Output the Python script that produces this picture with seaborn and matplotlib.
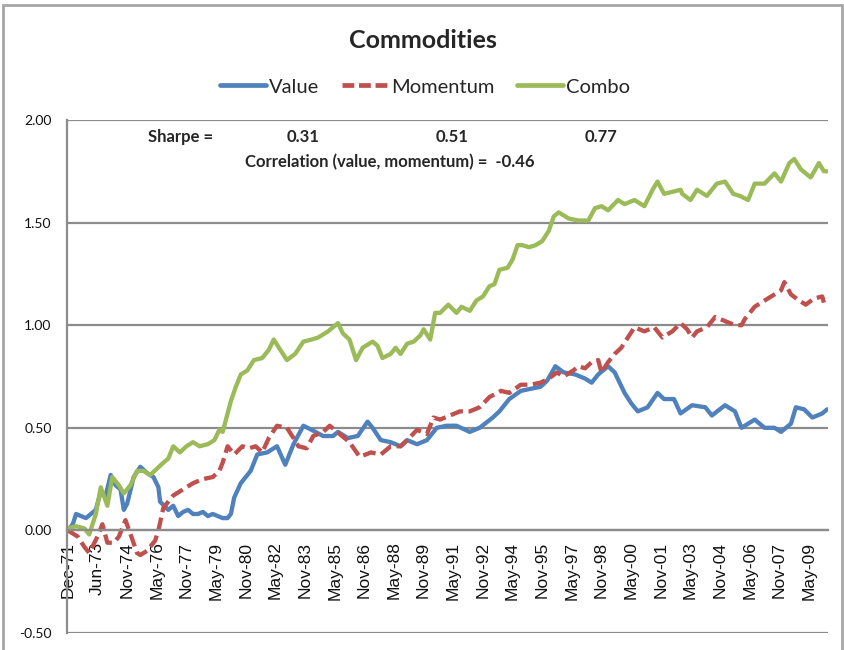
import numpy as np
import pandas as pd
import matplotlib
matplotlib.use("Agg")
import matplotlib.pyplot as plt
import seaborn as sns
from matplotlib.lines import Line2D
from matplotlib.patches import Rectangle

# ==========================================
#   DATA (cumulative returns; month 0 = Dec-71)
# ==========================================
value_months = [0, 3, 5, 8, 11, 17, 20, 23, 26, 29, 32, 34, 36, 40, 44, 48, 52, 55, 56, 61,
                64, 67, 70, 73, 76, 79, 82, 85, 88, 91, 94, 97, 99, 101, 105, 111, 115, 121, 127, 132,
                137, 143, 148, 155, 161, 164, 170, 176, 182, 185, 190, 196, 202, 206, 212, 218, 224, 230, 236, 244,
                250, 258, 262, 268, 275, 281, 287, 291, 296, 301, 308, 314, 318, 322, 328, 332, 338, 342, 346, 352,
                358, 362, 368, 372, 379, 387, 391, 399, 405, 409, 417, 423, 429, 433, 439, 442, 447, 452, 458, 461]
value_vals = [0.00, 0.03, 0.08, 0.07, 0.06, 0.10, 0.19, 0.17, 0.27, 0.22, 0.20, 0.10, 0.13, 0.26, 0.31, 0.28, 0.26, 0.21, 0.14, 0.10,
              0.12, 0.07, 0.09, 0.10, 0.08, 0.08, 0.09, 0.07, 0.08, 0.07, 0.06, 0.06, 0.08, 0.16, 0.23, 0.29, 0.37, 0.38, 0.41, 0.32,
              0.42, 0.51, 0.49, 0.46, 0.46, 0.48, 0.45, 0.46, 0.53, 0.50, 0.44, 0.43, 0.41, 0.44, 0.42, 0.44, 0.50, 0.51, 0.51, 0.48,
              0.50, 0.55, 0.58, 0.64, 0.68, 0.69, 0.70, 0.73, 0.80, 0.77, 0.76, 0.74, 0.72, 0.76, 0.80, 0.77, 0.67, 0.62, 0.58, 0.60,
              0.67, 0.64, 0.64, 0.57, 0.61, 0.60, 0.56, 0.61, 0.58, 0.50, 0.54, 0.50, 0.50, 0.48, 0.52, 0.60, 0.59, 0.55, 0.57, 0.59]

momentum_months = [0, 6, 10, 13, 18, 21, 24, 28, 31, 35, 39, 42, 44, 48, 53, 55, 58, 64, 70, 76,
                   82, 88, 92, 94, 97, 101, 106, 110, 114, 118, 122, 127, 133, 137, 140, 145, 149, 155, 159, 165,
                   171, 177, 181, 184, 190, 196, 202, 206, 212, 218, 222, 226, 232, 238, 244, 250, 256, 263, 268, 275,
                   281, 287, 292, 297, 301, 307, 310, 314, 318, 322, 324, 328, 332, 336, 340, 344, 350, 356, 361, 367,
                   372, 376, 379, 382, 388, 393, 399, 405, 409, 411, 417, 423, 429, 433, 435, 439, 444, 448, 453, 458, 459]
momentum_vals = [0.00, -0.03, -0.08, -0.11, -0.03, 0.03, -0.06, -0.06, -0.03, 0.05, -0.04, -0.11, -0.12, -0.10, -0.05, 0.00, 0.11, 0.17, 0.20, 0.23,
                 0.25, 0.26, 0.29, 0.33, 0.41, 0.37, 0.41, 0.40, 0.41, 0.38, 0.45, 0.51, 0.50, 0.45, 0.41, 0.40, 0.46, 0.48, 0.51, 0.47,
                 0.43, 0.36, 0.37, 0.38, 0.37, 0.41, 0.41, 0.44, 0.49, 0.47, 0.55, 0.54, 0.56, 0.58, 0.58, 0.60, 0.65, 0.68, 0.67, 0.71,
                 0.71, 0.72, 0.74, 0.77, 0.75, 0.78, 0.80, 0.79, 0.82, 0.83, 0.77, 0.82, 0.86, 0.89, 0.94, 0.99, 0.97, 0.99, 0.94, 0.97,
                 1.01, 0.98, 0.94, 0.97, 0.99, 1.04, 1.02, 1.00, 1.00, 1.03, 1.09, 1.12, 1.15, 1.17, 1.21, 1.15, 1.12, 1.10, 1.13, 1.14, 1.11]

combo_months = [0, 5, 10, 13, 17, 20, 24, 27, 31, 34, 38, 42, 46, 50, 54, 58, 61, 64, 68, 72,
                76, 80, 85, 89, 92, 94, 97, 99, 102, 105, 109, 113, 118, 122, 125, 129, 133, 138, 143, 148,
                152, 158, 164, 167, 171, 175, 179, 185, 188, 191, 196, 199, 202, 206, 210, 214, 216, 220, 223, 226,
                231, 236, 239, 244, 248, 252, 256, 259, 262, 267, 270, 273, 276, 280, 284, 288, 292, 295, 298, 304,
                310, 316, 320, 324, 328, 334, 338, 344, 350, 355, 358, 362, 367, 372, 373, 378, 382, 388, 394, 399,
                404, 408, 413, 417, 423, 429, 433, 438, 441, 445, 451, 456, 459, 461]
combo_vals = [0.01, 0.02, 0.01, -0.02, 0.08, 0.21, 0.12, 0.26, 0.22, 0.18, 0.22, 0.29, 0.29, 0.27, 0.30, 0.33, 0.35, 0.41, 0.38, 0.41,
              0.43, 0.41, 0.42, 0.44, 0.49, 0.48, 0.57, 0.63, 0.70, 0.76, 0.78, 0.83, 0.84, 0.88, 0.93, 0.88, 0.83, 0.86, 0.92, 0.93,
              0.94, 0.97, 1.01, 0.96, 0.93, 0.83, 0.89, 0.92, 0.90, 0.84, 0.86, 0.89, 0.86, 0.91, 0.92, 0.95, 0.98, 0.93, 1.06, 1.06,
              1.10, 1.06, 1.09, 1.07, 1.12, 1.14, 1.19, 1.20, 1.27, 1.28, 1.32, 1.39, 1.39, 1.38, 1.39, 1.41, 1.46, 1.53, 1.55, 1.52,
              1.51, 1.51, 1.57, 1.58, 1.56, 1.61, 1.59, 1.61, 1.58, 1.66, 1.70, 1.64, 1.65, 1.66, 1.64, 1.61, 1.66, 1.63, 1.69, 1.70,
              1.64, 1.63, 1.61, 1.69, 1.69, 1.74, 1.70, 1.79, 1.81, 1.76, 1.72, 1.79, 1.75, 1.75]

tick_labels = ["Dec-71", "Jun-73", "Nov-74", "May-76", "Nov-77", "May-79", "Nov-80", "May-82", "Nov-83",
               "May-85", "Nov-86", "May-88", "Nov-89", "May-91", "Nov-92", "May-94", "Nov-95", "May-97",
               "Nov-98", "May-00", "Nov-01", "May-03", "Nov-04", "May-06", "Nov-07", "May-09"]
label_step = 18  # one label every 18 months

series_names = ["Value", "Momentum", "Combo"]
sharpe = ["0.31", "0.51", "0.77"]
correlation = "-0.46"

# ==========================================
#   STYLE
# ==========================================
sns.set_style("white")
plt.rcParams["font.family"] = ["Lato", "DejaVu Sans"]

COLORS = {"Value": "#4F81BD", "Momentum": "#C0504D", "Combo": "#9BBB59"}
DASHES = {"Value": "", "Momentum": (3, 1.3), "Combo": ""}
GRID = "#8C8C8C"

W, H = 845, 650
def fx(px):
    return px / W
def fy(py):
    return 1 - py / H

df = pd.concat([
    pd.DataFrame({"month": value_months, "ret": value_vals, "series": "Value"}),
    pd.DataFrame({"month": momentum_months, "ret": momentum_vals, "series": "Momentum"}),
    pd.DataFrame({"month": combo_months, "ret": combo_vals, "series": "Combo"}),
], ignore_index=True)

fig = plt.figure(figsize=(W / 100, H / 100), dpi=100)
ax = fig.add_axes([fx(67), 1 - 633 / H, (828 - 67) / W, (633 - 120) / H])

sns.lineplot(data=df, x="month", y="ret", hue="series", style="series",
             hue_order=series_names, style_order=series_names,
             palette=COLORS, dashes=DASHES, linewidth=3.1,
             estimator=None, sort=False, legend=False, ax=ax)
for ln in ax.lines:
    ln.set_solid_joinstyle("round")
    ln.set_dash_capstyle("butt")

# spines first: moving the bottom spine resets the tick objects
ax.spines["top"].set_visible(False)
ax.spines["right"].set_visible(False)
ax.spines["left"].set_color(GRID)
ax.spines["left"].set_linewidth(1.6)
ax.spines["bottom"].set_position(("data", 0))
ax.spines["bottom"].set_color(GRID)
ax.spines["bottom"].set_linewidth(1.6)

ax.set_xlim(-0.5, 461.5)
ax.set_ylim(-0.5, 2.0)
yt = np.arange(-0.5, 2.01, 0.5)
ax.set_yticks(yt)
ax.set_yticklabels([f"{v:.2f}" for v in yt], fontsize=10, color="#111111")
ax.set_xticks(np.arange(len(tick_labels)) * label_step)
ax.set_xticklabels(tick_labels, rotation=90, fontsize=12.5,
                   family=["Liberation Sans", "DejaVu Sans"], color="#111111")
ax.set_xlabel("")
ax.set_ylabel("")

ax.yaxis.grid(True, color=GRID, linewidth=1.6)
ax.xaxis.grid(False)
ax.set_axisbelow(True)
ax.tick_params(axis="x", direction="out", length=5, width=1.3, color=GRID, pad=3)
ax.tick_params(axis="y", direction="out", length=5, width=1.3, color=GRID, pad=6)

# title, legend, annotations
fig.text(fx(423), fy(41), "Commodities", ha="center", va="center",
         fontsize=18, fontweight="bold")

handles = []
for s in series_names:
    h = Line2D([0], [0], color=COLORS[s], lw=3.4, label=s, dash_capstyle="butt")
    if s == "Momentum":
        h.set_dashes((2.5, 1.0))
    handles.append(h)
fig.legend(handles=handles, loc="center", bbox_to_anchor=(fx(425), fy(87)),
           ncol=3, frameon=False, fontsize=14.5, handlelength=2.3,
           handletextpad=0.15, columnspacing=1.1)

fig.text(fx(148), fy(137), "Sharpe =", ha="left", va="center", fontsize=12, fontweight="bold")
for xp, s in zip([303, 452, 601], sharpe):
    fig.text(fx(xp), fy(137), s, ha="center", va="center", fontsize=12, fontweight="bold")
fig.text(fx(245), fy(162), f"Correlation (value, momentum) =  {correlation}",
         ha="left", va="center", fontsize=12, fontweight="bold")

# chart-area frame
fig.patches.append(Rectangle((fx(3), -0.1), (842 - 3) / W, fy(5) + 0.1,
                             transform=fig.transFigure, fill=False,
                             edgecolor="#A6A6A6", linewidth=2))

fig.savefig("out.png", dpi=100)
